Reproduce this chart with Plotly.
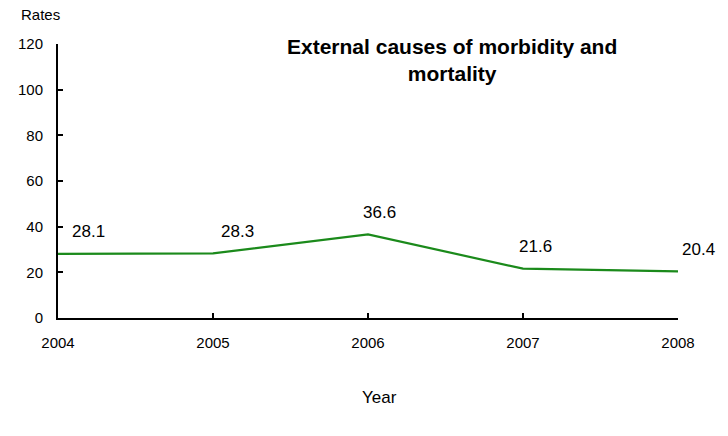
import plotly.graph_objects as go

years = [2004, 2005, 2006, 2007, 2008]
rates = [28.1, 28.3, 36.6, 21.6, 20.4]
label_texts = ["28.1", "28.3", "36.6", "21.6", "20.4"]
label_xshift = [12, 6, -7, -6, 2]

FONT = "Liberation Sans, Arial, sans-serif"

fig = go.Figure()
fig.add_trace(go.Scatter(x=years, y=rates, mode="lines",
                         line=dict(color="#1b8a1b", width=2.2),
                         hoverinfo="skip", showlegend=False))

annotations = []
for x, y, t, dx in zip(years, rates, label_texts, label_xshift):
    annotations.append(dict(x=x, y=y, xref="x", yref="y", text=t, showarrow=False,
                            xanchor="left", yanchor="middle", xshift=dx, yshift=22,
                            font=dict(family=FONT, size=17, color="black")))

annotations.append(dict(x=0.635, y=1, xref="paper", yref="paper", yshift=-16,
                        text="<b>External causes of morbidity and<br>mortality</b>",
                        showarrow=False, xanchor="center", yanchor="middle",
                        font=dict(family=FONT, size=21, color="black")))
annotations.append(dict(x=-0.029, y=1, xref="paper", yref="paper", yshift=30,
                        text="Rates", showarrow=False, xanchor="center", yanchor="middle",
                        font=dict(family=FONT, size=15, color="black")))
annotations.append(dict(x=0.519, y=0, xref="paper", yref="paper", yshift=-79,
                        text="Year", showarrow=False, xanchor="center", yanchor="middle",
                        font=dict(family=FONT, size=17, color="black")))

fig.update_layout(
    width=728, height=436,
    margin=dict(l=58, r=50, t=44, b=118),
    paper_bgcolor="white", plot_bgcolor="white",
    annotations=annotations,
    font=dict(family=FONT, size=15, color="black"),
)
fig.update_xaxes(range=[2004, 2008], tickvals=years, ticktext=[str(y) for y in years],
                 showgrid=False, zeroline=False, showline=True, linecolor="black", linewidth=2,
                 ticks="inside", ticklen=5, tickwidth=2, tickcolor="black",
                 tickfont=dict(family=FONT, size=15), ticklabelstandoff=10)
fig.update_yaxes(range=[0, 120], tickvals=[0, 20, 40, 60, 80, 100, 120],
                 showgrid=False, zeroline=False, showline=True, linecolor="black", linewidth=2,
                 ticks="inside", ticklen=5, tickwidth=2, tickcolor="black",
                 tickfont=dict(family=FONT, size=15), ticklabelstandoff=10)

fig.write_html("out.html", config={"displayModeBar": False},
               post_script="document.body.style.margin='0';document.body.style.overflow='hidden';")
